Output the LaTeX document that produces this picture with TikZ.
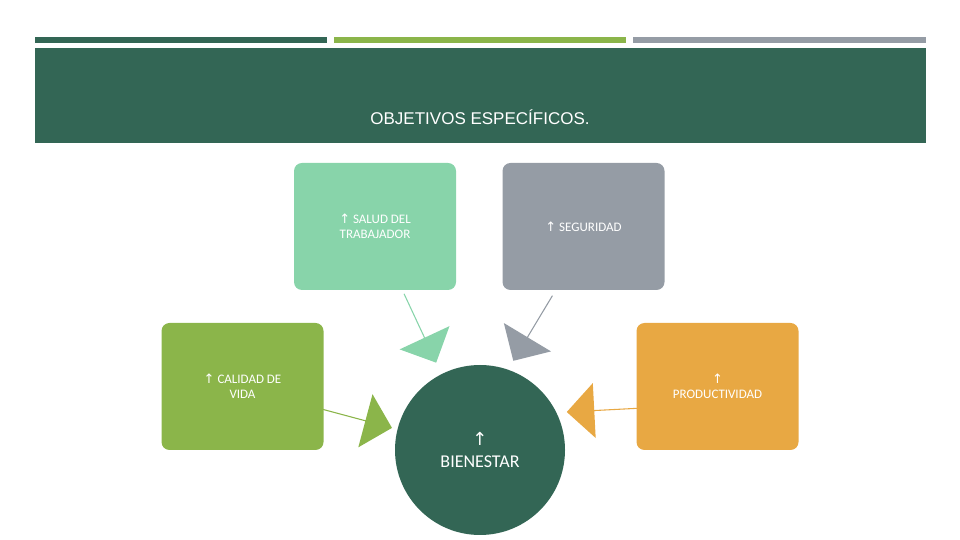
\documentclass[tikz,border=0pt]{standalone}
\usepackage{fontspec}
\setmainfont{Carlito}
\newfontfamily\symfont{DejaVu Sans}
\usetikzlibrary{shapes.arrows}
\definecolor{DarkTeal}{HTML}{336655}
\definecolor{MintGreen}{HTML}{88D4AA}
\definecolor{SlateGray}{HTML}{959CA5}
\definecolor{LeafGreen}{HTML}{8BB54A}
\definecolor{Amber}{HTML}{E8A843}
\newcommand{\up}{{\symfont\char"2191}}
\tikzset{
    topic/.style={rounded corners=8pt, minimum width=162pt, minimum height=127pt, text=white, align=center, font=\fontsize{13}{15}\selectfont, inner sep=0pt},
    blockarrow/.style={single arrow, minimum height=76pt, minimum width=55pt, single arrow head extend=10pt, inner sep=0pt}
}
\begin{document}
\begin{tikzpicture}[x=1pt, y=1pt]
    \useasboundingbox (0, 0) rectangle (960, 540);

    % header
    \fill[DarkTeal] (35, 497) rectangle (327, 503);
    \fill[LeafGreen] (334, 497) rectangle (626, 503);
    \fill[SlateGray] (633, 497) rectangle (926, 503);
    \fill[DarkTeal] (35, 397) rectangle (926, 492);
    \node (title) at (480, 423)[text=white, font=\fontsize{17}{20}\selectfont\sffamily] {\fontspec{Liberation Sans}OBJETIVOS ESPECÍFICOS.};

    % arrows
    \node (a1) at (420, 212)[blockarrow, fill=MintGreen, rotate=-65] {};
    \node (a2) at (533, 212)[blockarrow, fill=SlateGray, rotate=-121] {};
    \node (a3) at (355, 122)[blockarrow, fill=LeafGreen, rotate=-15] {};
    \node (a4) at (605, 130)[blockarrow, fill=Amber, rotate=183] {};

    % boxes
    \node (salud) at (375, 313.5)[topic, fill=MintGreen] {\up\ SALUD DEL\\TRABAJADOR};
    \node (seguridad) at (583.5, 313.5)[topic, fill=SlateGray] {\up\ SEGURIDAD};
    \node (calidad) at (242.5, 153.5)[topic, fill=LeafGreen] {\up\ CALIDAD DE\\VIDA};
    \node (productividad) at (717.5, 153.5)[topic, fill=Amber] {\up\\PRODUCTIVIDAD};

    \node (bienestar) at (480, 90)[circle, minimum size=170pt, fill=DarkTeal, text=white, align=center, font=\fontsize{18}{22}\selectfont] {\up\\BIENESTAR};
\end{tikzpicture}
\end{document}
